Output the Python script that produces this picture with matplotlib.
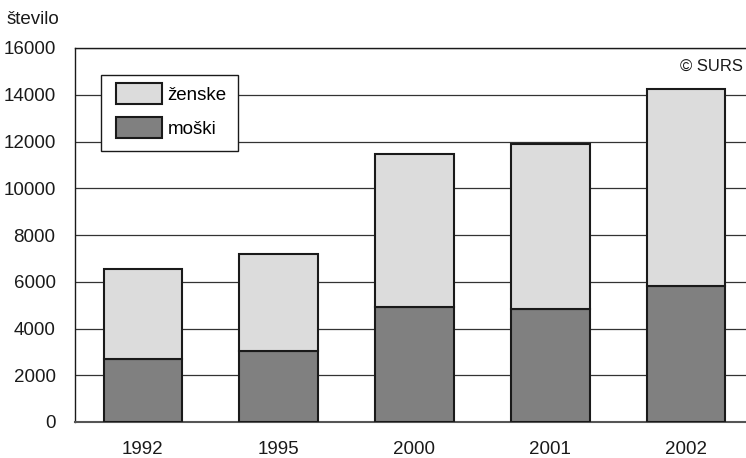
import matplotlib
matplotlib.use("Agg")
import matplotlib.pyplot as plt
from matplotlib.patches import Patch, Rectangle

years = ["1992", "1995", "2000", "2001", "2002"]
moski = [2690, 3050, 4900, 4830, 5810]
zenske = [3840, 4130, 6550, 7080, 8420]
yticks = [0, 2000, 4000, 6000, 8000, 10000, 12000, 14000, 16000]

plt.rcParams['font.family'] = ['Liberation Sans', 'DejaVu Sans']
plt.rcParams['font.size'] = 13.5

fig = plt.figure(figsize=(7.46, 4.58), dpi=100)
W, H = 746, 458
ax = fig.add_axes([75/W, 1-422/H, 1-75/W, (422-48)/H])

x = list(range(len(years)))
edge = '#1a1a1a'
ax.bar(x, moski, width=0.58, color='#808080', edgecolor=edge, linewidth=1.5, zorder=3)
ax.bar(x, zenske, width=0.58, bottom=moski, color='#dcdcdc', edgecolor=edge, linewidth=1.5, zorder=3)

ax.set_ylim(0, 16000)
ax.set_xlim(-0.5, 4.5 - 8/136)
ax.set_yticks(yticks)
ax.set_yticklabels([str(v) for v in yticks])
ax.set_xticks(x)
ax.set_xticklabels(years)
ax.tick_params(length=0, colors='#1a1a1a')
ax.tick_params(axis='y', pad=14)
ax.tick_params(axis='x', pad=14)
ax.grid(axis='y', color='#333333', linewidth=0.9, zorder=0)
for s in ['left', 'top']:
    ax.spines[s].set_color('#1a1a1a')
    ax.spines[s].set_linewidth(1.0)
ax.spines['bottom'].set_color('#555555')
ax.spines['bottom'].set_linewidth(1.5)
ax.spines['right'].set_visible(False)

fig.text(7/W, 1-20/H, "število", ha='left', va='center', color='#1a1a1a')
fig.text(743/W, 1-66/H, "© SURS", ha='right', va='center', fontsize=12, color='#1a1a1a')

# legend box drawn by hand so the padding matches
fig.patches.append(Rectangle((101/W, 1-151/H), 137/W, 76/H, transform=fig.transFigure,
                             facecolor='white', edgecolor='#1a1a1a', linewidth=1.0, zorder=4))
handles = [Patch(facecolor='#dcdcdc', edgecolor=edge, linewidth=1.5, label='ženske'),
           Patch(facecolor='#808080', edgecolor=edge, linewidth=1.5, label='moški')]
leg = fig.legend(handles=handles, loc='upper left', bbox_to_anchor=(116/W, 1-83/H),
                 bbox_transform=fig.transFigure, borderaxespad=0, borderpad=0, frameon=False,
                 handlelength=2.45, handleheight=1.35, labelspacing=0.7, handletextpad=0.3)
leg.set_zorder(5)

fig.savefig("out.png", dpi=100)
